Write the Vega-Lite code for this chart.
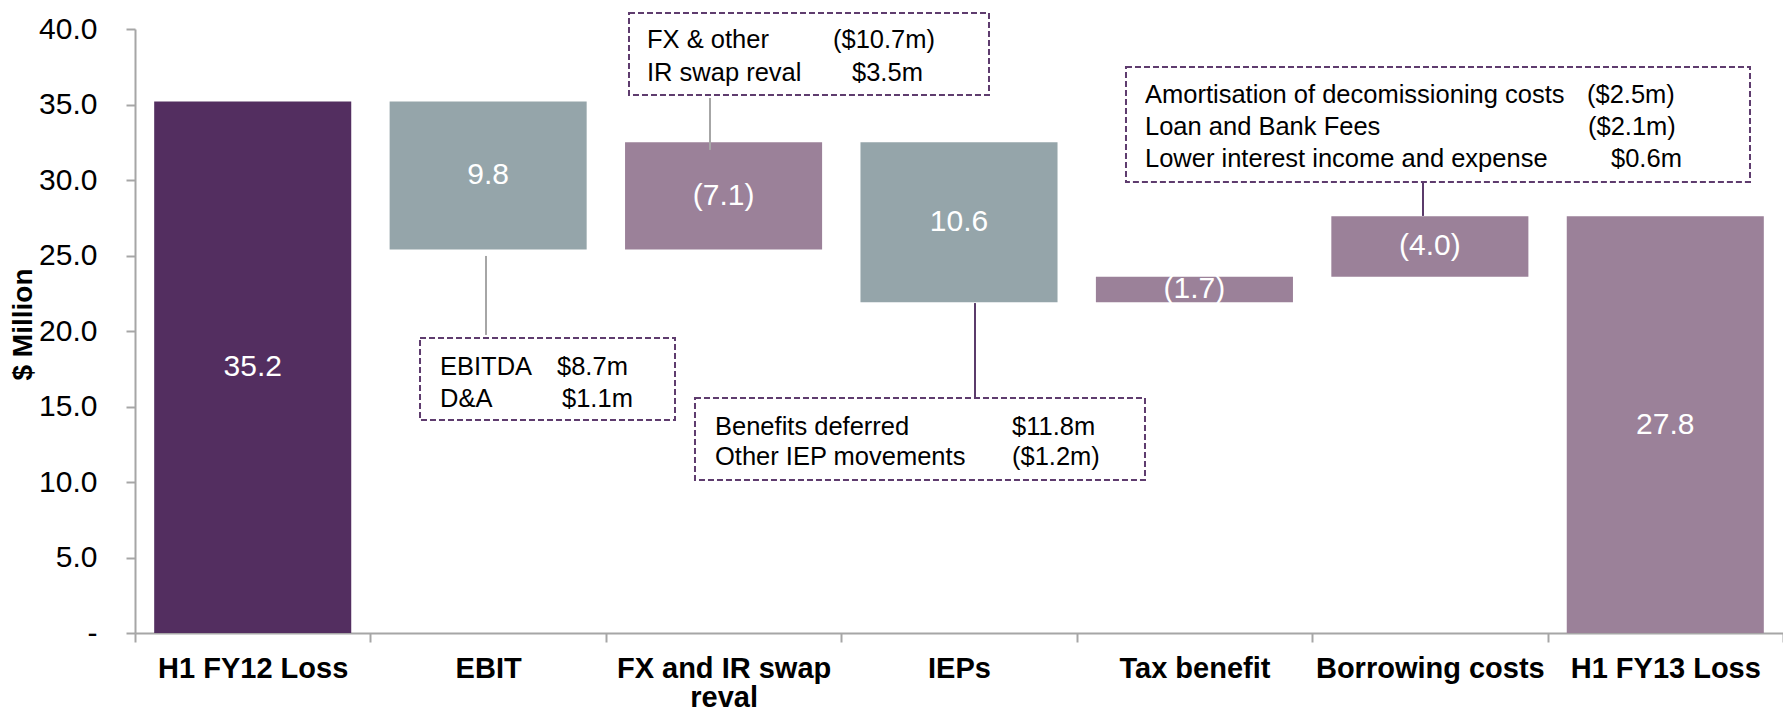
{
  "$schema": "https://vega.github.io/schema/vega-lite/v6.json",
  "width": 1648,
  "height": 604,
  "autosize": {"type": "none"},
  "padding": {"left": 135, "top": 29, "right": 0, "bottom": 81},
  "background": "white",
  "config": {"font": "Liberation Sans", "view": {"stroke": null}},
  "datasets": {
    "bars": [
      {"step": "H1 FY12 Loss", "start": 0, "end": 35.2, "label": "35.2", "kind": "start"},
      {"step": "EBIT", "start": 35.2, "end": 25.4, "label": "9.8", "kind": "down"},
      {"step": "FX and IR swap reval", "start": 25.4, "end": 32.5, "label": "(7.1)", "kind": "up"},
      {"step": "IEPs", "start": 32.5, "end": 21.9, "label": "10.6", "kind": "down"},
      {"step": "Tax benefit", "start": 21.9, "end": 23.6, "label": "(1.7)", "kind": "up"},
      {"step": "Borrowing costs", "start": 23.6, "end": 27.6, "label": "(4.0)", "kind": "up"},
      {"step": "H1 FY13 Loss", "start": 0, "end": 27.6, "label": "27.8", "kind": "end"}
    ],
    "boxes": [
      {"note": "EBIT", "u1": 1.2106, "u2": 2.2937, "v1": 19.54, "v2": 14.11},
      {"note": "FX", "u1": 2.0983, "u2": 3.6274, "v1": 41.06, "v2": 35.63},
      {"note": "IEPs", "u1": 2.3786, "u2": 4.29, "v1": 15.56, "v2": 10.13},
      {"note": "Borrowing", "u1": 4.2093, "u2": 6.8598, "v1": 37.48, "v2": 29.87}
    ],
    "links": [
      {"note": "EBIT", "u": 1.4909, "v1": 24.97, "v2": 19.74},
      {"note": "FX", "u": 2.4423, "v1": 35.43, "v2": 31.99},
      {"note": "IEPs", "u": 3.5679, "v1": 21.85, "v2": 15.56},
      {"note": "Borrowing", "u": 5.4708, "v1": 29.87, "v2": 27.62}
    ],
    "notes": [
      {"u": 1.2955, "v": 17.09, "text": "EBITDA"},
      {"u": 1.7925, "v": 17.09, "text": "$8.7m"},
      {"u": 1.2955, "v": 14.97, "text": "D&A"},
      {"u": 1.8137, "v": 14.97, "text": "$1.1m"},
      {"u": 2.1747, "v": 38.72, "text": "FX & other"},
      {"u": 2.9648, "v": 38.72, "text": "($10.7m)"},
      {"u": 2.1747, "v": 36.58, "text": "IR swap reval"},
      {"u": 3.0455, "v": 36.58, "text": "$3.5m"},
      {"u": 2.4636, "v": 13.11, "text": "Benefits deferred"},
      {"u": 3.7251, "v": 13.11, "text": "$11.8m"},
      {"u": 2.4636, "v": 11.13, "text": "Other IEP movements"},
      {"u": 3.7251, "v": 11.13, "text": "($1.2m)"},
      {"u": 4.29, "v": 35.1, "text": "Amortisation of decomissioning costs"},
      {"u": 6.1674, "v": 35.1, "text": "($2.5m)"},
      {"u": 4.29, "v": 32.98, "text": "Loan and Bank Fees"},
      {"u": 6.1716, "v": 32.98, "text": "($2.1m)"},
      {"u": 4.29, "v": 30.86, "text": "Lower interest income and expense"},
      {"u": 6.2694, "v": 30.86, "text": "$0.6m"}
    ]
  },
  "layer": [
    {
      "layer": [
        {
          "data": {"name": "bars"},
          "mark": {"type": "bar", "width": {"band": 0.837}},
          "encoding": {
            "x": {
              "field": "step", "type": "nominal",
              "sort": ["H1 FY12 Loss", "EBIT", "FX and IR swap reval", "IEPs", "Tax benefit", "Borrowing costs", "H1 FY13 Loss"],
              "scale": {"paddingInner": 0, "paddingOuter": 0},
              "axis": {
                "title": null,
                "labelAngle": 0,
                "tickBand": "extent",
                "labelFontSize": 29,
                "labelFontWeight": "bold",
                "labelColor": "#000000",
                "labelPadding": 12,
                "labelLimit": 0,
                "labelOverlap": false,
                "labelLineHeight": 29,
                "labelExpr": "datum.value === 'FX and IR swap reval' ? ['FX and IR swap', 'reval'] : datum.label",
                "tickSize": 9,
                "tickWidth": 2,
                "tickColor": "#A6A6A6",
                "domainColor": "#A6A6A6",
                "domainWidth": 2
              }
            },
            "y": {
              "field": "start", "type": "quantitative",
              "scale": {"domain": [0, 40], "nice": false, "zero": true},
              "axis": {
                "values": [0, 5, 10, 15, 20, 25, 30, 35, 40],
                "labelExpr": "datum.value === 0 ? '-\u00a0\u00a0' : format(datum.value, '.1f')",
                "labelFontSize": 30,
                "labelColor": "#000000",
                "labelPadding": 29,
                "tickSize": 9,
                "tickWidth": 2,
                "tickColor": "#A6A6A6",
                "domainColor": "#A6A6A6",
                "domainWidth": 2,
                "grid": false,
                "title": "$ Million",
                "titleFontSize": 28,
                "titleFontWeight": "bold",
                "titleColor": "#000000",
                "titleAngle": 270,
                "titleX": -112,
                "titleY": 295,
                "titleAlign": "center",
                "titleBaseline": "middle"
              }
            },
            "y2": {"field": "end"},
            "color": {
              "field": "kind", "type": "nominal",
              "scale": {"domain": ["start", "down", "up", "end"], "range": ["#532E60", "#95A5AA", "#9B8199", "#9B8199"]},
              "legend": null
            }
          }
        },
        {
          "data": {"name": "bars"},
          "transform": [
            {"fold": ["start", "end"], "as": ["k", "v"]},
            {"aggregate": [{"op": "mean", "field": "v", "as": "mid"}], "groupby": ["step", "label"]}
          ],
          "mark": {"type": "text", "color": "#FFFFFF", "fontSize": 30, "align": "center", "baseline": "middle"},
          "encoding": {
            "x": {
              "field": "step", "type": "nominal",
              "sort": ["H1 FY12 Loss", "EBIT", "FX and IR swap reval", "IEPs", "Tax benefit", "Borrowing costs", "H1 FY13 Loss"]
            },
            "y": {"field": "mid", "type": "quantitative"},
            "text": {"field": "label"}
          }
        }
      ]
    },
    {
      "data": {"name": "boxes"},
      "mark": {"type": "rect", "fill": "#FFFFFF", "stroke": "#5E3C6E", "strokeWidth": 2, "strokeDash": [6, 3]},
      "encoding": {
        "x": {"field": "u1", "type": "quantitative", "scale": {"domain": [0, 7], "nice": false, "zero": false}, "axis": null},
        "x2": {"field": "u2"},
        "y": {"field": "v1", "type": "quantitative", "axis": null},
        "y2": {"field": "v2"}
      }
    },
    {
      "data": {"name": "links"},
      "mark": {"type": "rule", "strokeWidth": 2},
      "encoding": {
        "x": {"field": "u", "type": "quantitative", "scale": {"domain": [0, 7], "nice": false, "zero": false}, "axis": null},
        "y": {"field": "v1", "type": "quantitative", "axis": null},
        "y2": {"field": "v2"},
        "color": {
          "condition": {"test": "datum.note === 'EBIT' || datum.note === 'FX'", "value": "#A6A6A6"},
          "value": "#5B3B6B"
        }
      }
    },
    {
      "data": {"name": "notes"},
      "mark": {"type": "text", "align": "left", "baseline": "alphabetic", "fontSize": 25.5, "color": "#000000"},
      "encoding": {
        "x": {"field": "u", "type": "quantitative", "scale": {"domain": [0, 7], "nice": false, "zero": false}, "axis": null},
        "y": {"field": "v", "type": "quantitative", "axis": null},
        "text": {"field": "text"}
      }
    }
  ],
  "resolve": {"scale": {"x": "independent"}, "axis": {"x": "independent", "y": "independent"}}
}
